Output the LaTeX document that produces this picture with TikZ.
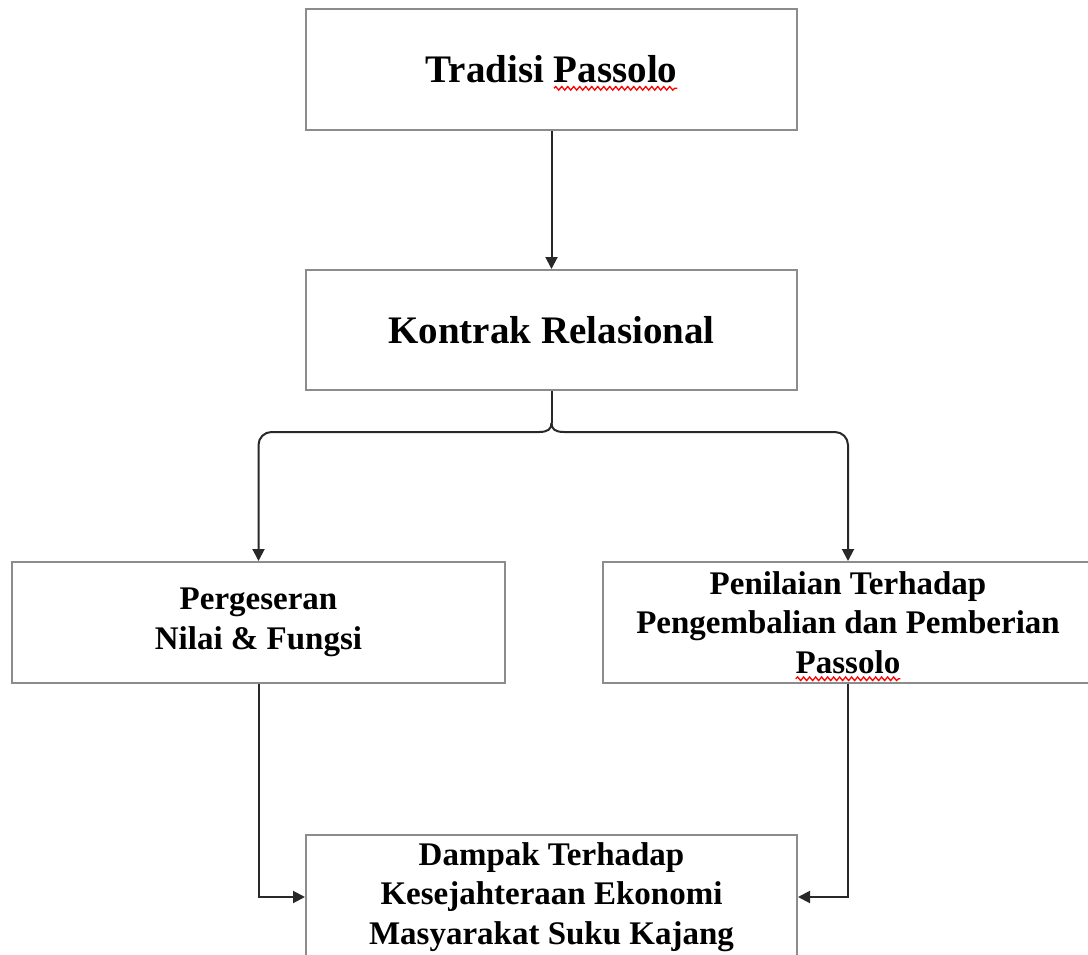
\documentclass[tikz,border=0pt]{standalone}
\usepackage{fontspec}
\setmainfont{Liberation Serif}
\usetikzlibrary{arrows.meta,decorations.pathmorphing}
\newsavebox\sperrbox
\newlength\sperrw
\newcommand\spellerr[1]{\sbox\sperrbox{#1}\setlength\sperrw{\wd\sperrbox}\leavevmode\usebox\sperrbox\kern-\sperrw\tikz[baseline=0pt,x=1pt,y=1pt]{\path[use as bounding box] (0,0) rectangle (\sperrw,0.1);\draw[red,line width=1.3pt,fill=none,-,decorate,decoration={snake,amplitude=1.8pt,segment length=6pt}] (0,-5.5) -- (\sperrw,-5.5);}}
\definecolor{boxgray}{RGB}{140,140,140}
\definecolor{linedark}{RGB}{40,40,40}
\tikzset{
  box/.style={draw=boxgray, line width=2pt, fill=white, align=center, inner sep=0pt},
  bigtxt/.style={font=\fontsize{39}{44}\selectfont\bfseries},
  smalltxt/.style={font=\fontsize{33}{39.5}\selectfont\bfseries},
  conn/.style={draw=linedark, line width=2pt},
  arr/.style={conn, -{Triangle[length=12pt,width=12pt]}}
}
\begin{document}
\begin{tikzpicture}[x=1pt,y=-1pt]
\useasboundingbox (0,0) rectangle (1088,955);
\begin{scope}
\clip (0,0) rectangle (1088,955);
\node[box, bigtxt, minimum width=491pt, minimum height=121pt] (b1) at (551.5,69.5) {Tradisi \spellerr{Passolo}};
\node[box, bigtxt, minimum width=491pt, minimum height=120pt] (b2) at (551.5,330) {Kontrak Relasional};
\node[box, smalltxt, minimum width=493pt, minimum height=121pt] (b3) at (258.5,622.5) {Pergeseran\\Nilai \& Fungsi};
\node[box, smalltxt, minimum width=490pt, minimum height=121pt] (b4) at (848,622.5) {Penilaian Terhadap\\Pengembalian dan Pemberian\\\spellerr{Passolo}};
\node[box, smalltxt, minimum width=491pt, minimum height=124pt] (b5) at (551.5,897) {Dampak Terhadap\\Kesejahteraan Ekonomi\\Masyarakat Suku Kajang};

\coordinate (pk) at (551.5,423);
\coordinate (bl) at (539,432);
\coordinate (br) at (564,432);

\draw[arr] (b1.south) -- (b2.north);
\draw[conn] (b2.south) -- (pk);
\draw[conn] (pk) .. controls (551.5,429) and (548,432) .. (bl);
\draw[conn] (pk) .. controls (551.5,429) and (555,432) .. (br);
\draw[arr, rounded corners=13pt] (bl) -- (b3.north |- bl) -- (b3.north);
\draw[arr, rounded corners=13pt] (br) -- (b4.north |- br) -- (b4.north);
\draw[arr] (b3.south) |- (b5.west);
\draw[arr] (b4.south) |- (b5.east);
\end{scope}
\end{tikzpicture}
\end{document}
